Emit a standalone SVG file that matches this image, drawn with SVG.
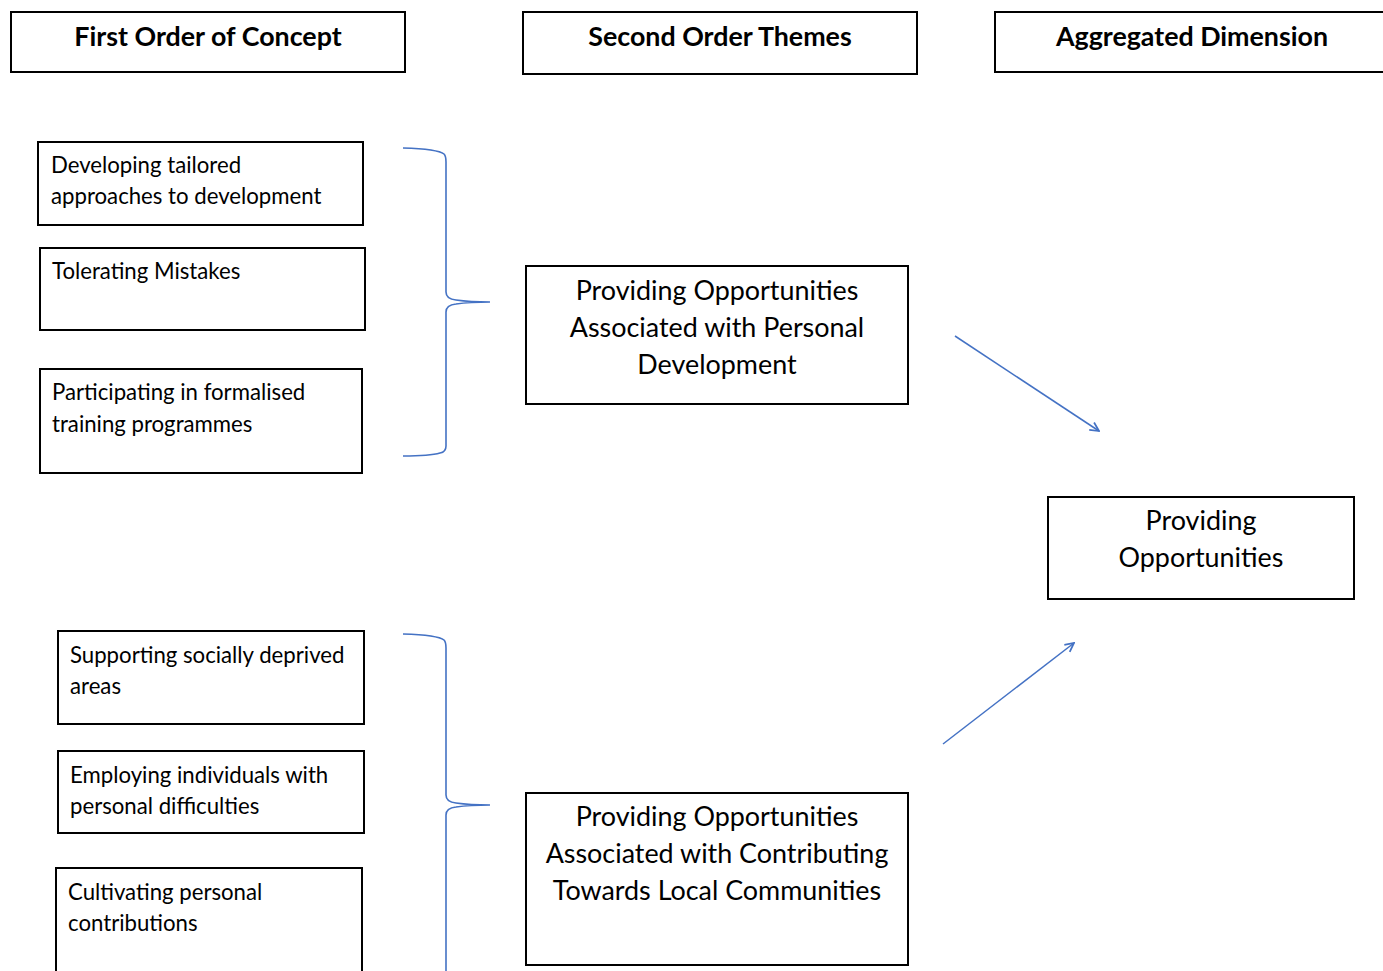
<svg xmlns="http://www.w3.org/2000/svg" width="1383" height="971" viewBox="0 0 1383 971">
  <style>
    .box { fill: #ffffff; stroke: #000000; stroke-width: 2; }
    .hdr { font-family: "Lato", "Liberation Sans", sans-serif; font-weight: bold; font-size: 26.8px; fill: #000; text-anchor: middle; }
    .item { font-family: "Lato", "Liberation Sans", sans-serif; font-size: 22.2px; fill: #000; }
    .theme { font-family: "Lato", "Liberation Sans", sans-serif; font-size: 26.9px; fill: #000; text-anchor: middle; }
    .brace { fill: none; stroke: #4472C4; stroke-width: 1.6; }
    .arrow { fill: none; stroke: #4472C4; stroke-width: 1.5; marker-end: url(#head); }
  </style>
  <defs>
    <marker id="head" viewBox="0 0 10 10" refX="9" refY="5" markerWidth="11" markerHeight="11" markerUnits="userSpaceOnUse" orient="auto">
      <path d="M1,1 L9,5 L1,9" fill="none" stroke="#4472C4" stroke-width="1.6"/>
    </marker>
  </defs>

  <rect width="1383" height="971" fill="#ffffff"/>

  <!-- column headings -->
  <g id="hdr-first">
    <rect class="box" x="11" y="12" width="394" height="60"/>
    <text class="hdr" x="208" y="46">First Order of Concept</text>
  </g>
  <g id="hdr-second">
    <rect class="box" x="523" y="12" width="394" height="62"/>
    <text class="hdr" x="720" y="46">Second Order Themes</text>
  </g>
  <g id="hdr-aggregated">
    <rect class="box" x="995" y="12" width="400" height="60"/>
    <text class="hdr" x="1192" y="46">Aggregated Dimension</text>
  </g>

  <!-- first order concepts -->
  <g id="c-tailored">
    <rect class="box" x="38" y="142" width="325" height="83"/>
    <text class="item" x="51" y="173">Developing tailored</text>
    <text class="item" x="51" y="204">approaches to development</text>
  </g>
  <g id="c-mistakes">
    <rect class="box" x="40" y="248" width="325" height="82"/>
    <text class="item" x="52" y="279">Tolerating Mistakes</text>
  </g>
  <g id="c-training">
    <rect class="box" x="40" y="369" width="322" height="104"/>
    <text class="item" x="52" y="400">Participating in formalised</text>
    <text class="item" x="52" y="432">training programmes</text>
  </g>
  <g id="c-deprived">
    <rect class="box" x="58" y="631" width="306" height="93"/>
    <text class="item" x="70" y="663">Supporting socially deprived</text>
    <text class="item" x="70" y="694">areas</text>
  </g>
  <g id="c-employing">
    <rect class="box" x="58" y="751" width="306" height="82"/>
    <text class="item" x="70" y="783">Employing individuals with</text>
    <text class="item" x="70" y="814">personal difficulties</text>
  </g>
  <g id="c-cultivating">
    <rect class="box" x="56" y="868" width="306" height="112"/>
    <text class="item" x="68" y="900">Cultivating personal</text>
    <text class="item" x="68" y="931">contributions</text>
  </g>

  <!-- second order themes -->
  <g id="t-personal">
    <rect class="box" x="526" y="266" width="382" height="138"/>
    <text class="theme" x="717" y="300">Providing Opportunities</text>
    <text class="theme" x="717" y="337">Associated with Personal</text>
    <text class="theme" x="717" y="374">Development</text>
  </g>
  <g id="t-community">
    <rect class="box" x="526" y="793" width="382" height="172"/>
    <text class="theme" x="717" y="826">Providing Opportunities</text>
    <text class="theme" x="717" y="863">Associated with Contributing</text>
    <text class="theme" x="717" y="900">Towards Local Communities</text>
  </g>

  <!-- aggregated dimension -->
  <g id="d-providing">
    <rect class="box" x="1048" y="497" width="306" height="102"/>
    <text class="theme" x="1201" y="530">Providing</text>
    <text class="theme" x="1201" y="567">Opportunities</text>
  </g>

  <!-- braces and arrows -->
  <g id="connectors">
    <path class="brace" d="M403,148 Q438,149 444,154 Q446,156 446,162 L446,292 Q446,299 456,300 Q470,302 490,302 Q470,302 456,304 Q446,305 446,312 L446,446 Q446,452 440,453 Q430,456 403,456"/>
    <path class="brace" d="M403,634 Q438,635 444,640 Q446,642 446,648 L446,795 Q446,802 456,803 Q470,805 490,805 Q470,805 456,807 Q446,808 446,815 L446,975"/>
    <line class="arrow" x1="955" y1="336" x2="1099" y2="431"/>
    <line class="arrow" x1="943" y1="744" x2="1074" y2="643"/>
  </g>
</svg>
